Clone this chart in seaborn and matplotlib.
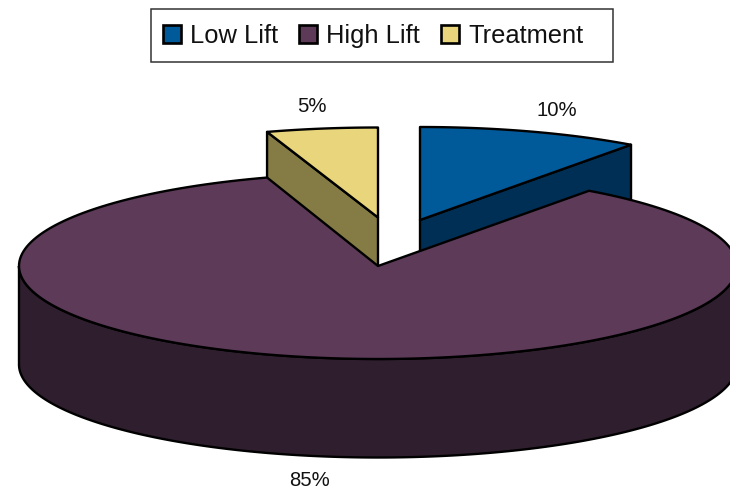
import numpy as np
import matplotlib
matplotlib.use("Agg")
import matplotlib.pyplot as plt
from matplotlib.patches import Patch, Rectangle
import seaborn as sns

categories = ["Low Lift", "High Lift", "Treatment"]
shares = [10, 85, 5]
top_colors = ["#005A9A", "#5C3A58", "#E9D67C"]
side_colors = ["#002F55", "#2F1F2E", "#857C45"]


def rim(cx, cy, angle, ry):
    """Point on the pie's top ellipse, angle in degrees clockwise from 12 o'clock."""
    t = np.radians(angle)
    return cx + RX * np.sin(t), cy - ry * np.cos(t)


def draw_radial_face(ax, cx, cy, angle, color, ry):
    """Draw the cut face of an exploded slice, from centre to rim and down."""
    x, y = rim(cx, cy, angle, ry)
    ax.fill([cx, x, x, cx], [cy, y, y + DEPTH, cy + DEPTH],
            facecolor=color, edgecolor="black", lw=LW, joinstyle="round")


def draw_top(ax, cx, cy, start, stop, color, ry):
    """Draw the flat top of a slice."""
    angles = np.linspace(start, stop, 200)
    x, y = rim(cx, cy, angles, ry)
    ax.fill(np.r_[cx, x], np.r_[cy, y],
            facecolor=color, edgecolor="black", lw=LW, joinstyle="round")


RX, RY, DEPTH = 359, 93, 98.5
LW = 1.7
CENTER = (378, 266)
OFFSETS = [(42, -46), (0, 0), (0, -48.5)]
TREAT_RY = 90

sns.set_theme(style="white")
plt.rcParams["font.family"] = ["Liberation Sans", "DejaVu Sans"]

fig = plt.figure(figsize=(7.3, 4.88), dpi=100)
ax = fig.add_axes([0, 0, 1, 1])
ax.set_xlim(0, 730)
ax.set_ylim(488, 0)
ax.axis("off")

edges = np.cumsum([0] + shares) * 3.6
low_start, low_stop = edges[0], edges[1]
high_start, high_stop = edges[1], edges[2]
treat_start, treat_stop = edges[2], edges[3]

# the two pulled out slices go first, the big slice paints over their lower part
low_c = (CENTER[0] + OFFSETS[0][0], CENTER[1] + OFFSETS[0][1])
treat_c = (CENTER[0] + OFFSETS[2][0], CENTER[1] + OFFSETS[2][1])
draw_radial_face(ax, low_c[0], low_c[1], low_stop, side_colors[0], RY)
draw_top(ax, low_c[0], low_c[1], low_start, low_stop, top_colors[0], RY)
draw_radial_face(ax, treat_c[0], treat_c[1], treat_start, side_colors[2], TREAT_RY)
draw_top(ax, treat_c[0], treat_c[1], treat_start, treat_stop, top_colors[2], TREAT_RY)

# outer wall of the big slice
wall = np.linspace(90, 270, 300)
wx, wy = rim(CENTER[0], CENTER[1], wall, RY)
ax.fill(np.r_[wx, wx[::-1]], np.r_[wy, wy[::-1] + DEPTH],
        facecolor=side_colors[1], edgecolor="black", lw=LW)
draw_top(ax, CENTER[0], CENTER[1], high_start, high_stop, top_colors[1], RY)

# data labels
label_pos = [(557, 111), (310, 480), (311.5, 106)]
for value, (x, y) in zip(shares, label_pos):
    ax.text(x, y, f"{value}%", ha="center", va="center", fontsize=14.6, color="#111111")

# legend frame is drawn by hand, the original has more room on the right
ax.add_patch(Rectangle((151, 9), 462, 53, facecolor="white", edgecolor="#333333", lw=1.1))
handles = [Patch(facecolor=c, edgecolor="black", lw=1.9) for c in top_colors]
leg = ax.legend(handles, categories, ncol=3, loc="center", bbox_to_anchor=(373, 36),
                bbox_transform=ax.transData, fontsize=18.4, frameon=False,
                handlelength=0.72, handleheight=0.72,
                handletextpad=0.36, columnspacing=0.8, borderpad=0.5, borderaxespad=0)
for txt in leg.get_texts():
    txt.set_color("#111111")

fig.savefig("out.png", dpi=100)
